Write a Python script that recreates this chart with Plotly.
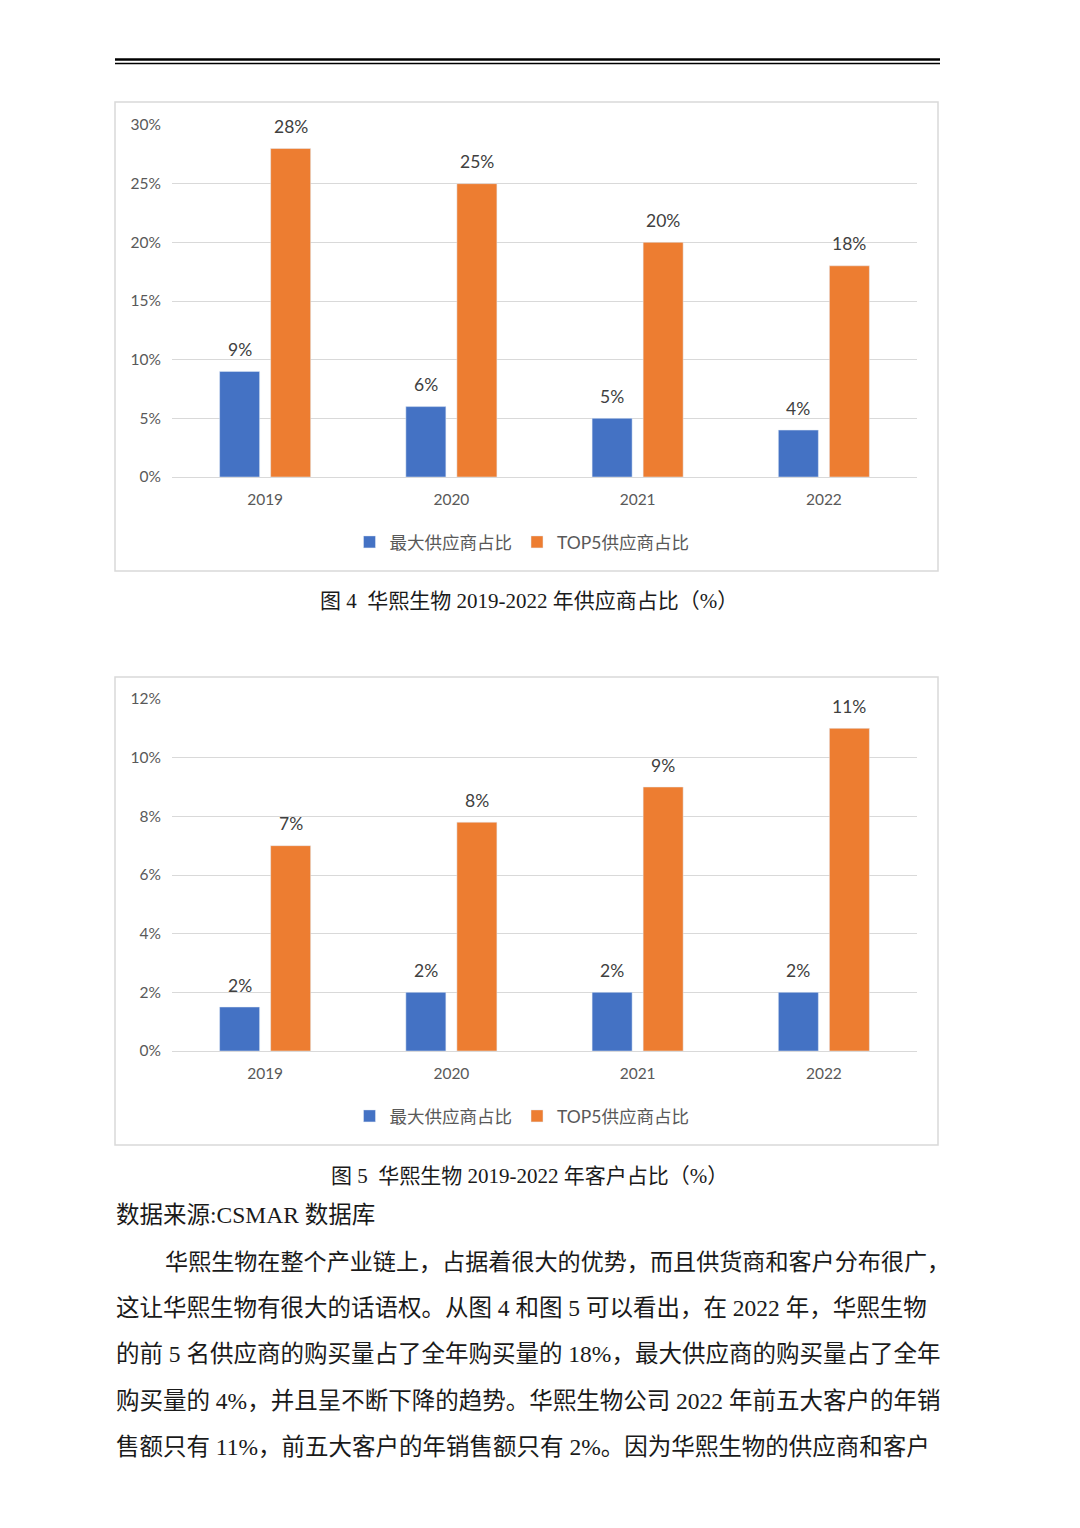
import plotly.graph_objects as go

# page and chart data
years = ["2019", "2020", "2021", "2022"]
supplier_top1 = [9, 6, 5, 4]
supplier_top5 = [28, 25, 20, 18]
customer_top1 = [1.5, 2, 2, 2]
customer_top5 = [7, 7.8, 9, 11]
series_names = ["最大供应商占比", "TOP5供应商占比"]
colors = ["#4472C4", "#ED7D31"]

caption4 = "图 4  华熙生物 2019-2022 年供应商占比（%）"
caption5 = "图 5  华熙生物 2019-2022 年客户占比（%）"
source_line = "数据来源:CSMAR 数据库"
body_lines = [
    "华熙生物在整个产业链上，占据着很大的优势，而且供货商和客户分布很广，",
    "这让华熙生物有很大的话语权。从图 4 和图 5 可以看出，在 2022 年，华熙生物",
    "的前 5 名供应商的购买量占了全年购买量的 18%，最大供应商的购买量占了全年",
    "购买量的 4%，并且呈不断下降的趋势。华熙生物公司 2022 年前五大客户的年销",
    "售额只有 11%，前五大客户的年销售额只有 2%。因为华熙生物的供应商和客户",
]

W, H = 1080, 1528
PAGE_OFFSET = 8  # the page body adds 8px around the figure
BARGAP, GROUPGAP = 0.452, 0.216
CHART_FONT = "Lato, 'Noto Sans CJK SC', sans-serif"
SERIF_FONT = "'Liberation Serif', 'Noto Sans CJK SC', serif"


def px_x(x):
    return (x - PAGE_OFFSET) / W


def px_y(y):
    return 1 - (y - PAGE_OFFSET) / H


fig = go.Figure()

# each bar sits at the centre of its half of the group
slot_offset = (1 - BARGAP) / 4
panels = [
    (supplier_top1, supplier_top5, "x", "y", "legend"),
    (customer_top1, customer_top5, "x2", "y2", "legend2"),
]
for top1, top5, xa, ya, lg in panels:
    for k, (vals, name, col) in enumerate(zip([top1, top5], series_names, colors)):
        fig.add_trace(go.Bar(
            x=years, y=vals, name=name, marker_color=col, xaxis=xa, yaxis=ya,
            legend=lg,
        ))
        # data labels sit a little higher above the bars than bar text allows
        shift = -slot_offset if k == 0 else slot_offset
        for i, v in enumerate(vals):
            fig.add_annotation(
                x=i + shift, y=v, xref=xa, yref=ya, text=f"{v:.0f}%",
                showarrow=False, xanchor="center", yanchor="middle", yshift=22,
                font=dict(size=17.5, color="#404040", family=CHART_FONT),
            )

axis_x = dict(showgrid=False, showline=True, linecolor="#d9d9d9", linewidth=1,
              ticks="", tickfont=dict(size=15.5, color="#595959", family=CHART_FONT),
              ticklabelstandoff=8, domain=[px_x(172), px_x(917)])
axis_y = dict(showgrid=True, gridcolor="#d9d9d9", gridwidth=1, zeroline=False,
              showline=False, ticksuffix="%", ticks="",
              tickfont=dict(size=15.5, color="#595959", family=CHART_FONT),
              ticklabelstandoff=10)
legend_style = dict(orientation="h", xanchor="center", yanchor="middle",
                    itemwidth=30, bgcolor="rgba(0,0,0,0)",
                    font=dict(size=17.5, color="#595959", family=CHART_FONT))

fig.update_layout(
    width=W, height=H, autosize=False,
    margin=dict(l=0, r=0, t=0, b=0, autoexpand=False),
    paper_bgcolor="white", plot_bgcolor="white",
    barmode="group", bargap=BARGAP, bargroupgap=GROUPGAP,
    xaxis=dict(axis_x, anchor="y"),
    yaxis=dict(axis_y, range=[0, 30], dtick=5, anchor="x",
               domain=[px_y(477), px_y(125)]),
    xaxis2=dict(axis_x, anchor="y2"),
    yaxis2=dict(axis_y, range=[0, 12], dtick=2, anchor="x2",
                domain=[px_y(1051), px_y(699)]),
    legend=dict(legend_style, x=px_x(522), y=px_y(542)),
    legend2=dict(legend_style, x=px_x(522), y=px_y(1116)),
)

# page decorations: header rule and chart frames
fig.add_shape(type="line", xref="paper", yref="paper", x0=px_x(115), x1=px_x(940),
              y0=px_y(59.5), y1=px_y(59.5), line=dict(color="black", width=2.5))
fig.add_shape(type="line", xref="paper", yref="paper", x0=px_x(115), x1=px_x(940),
              y0=px_y(63.5), y1=px_y(63.5), line=dict(color="black", width=1.5))
for top, bottom in [(102, 571), (677, 1145)]:
    fig.add_shape(type="rect", xref="paper", yref="paper", x0=px_x(115), x1=px_x(938),
                  y0=px_y(bottom), y1=px_y(top), line=dict(color="#d9d9d9", width=1.5),
                  layer="below")

# captions and body text
for txt, y in [(caption4, 601), (caption5, 1176)]:
    fig.add_annotation(text=txt, xref="paper", yref="paper", x=px_x(529), y=px_y(y),
                       xanchor="center", yanchor="middle", showarrow=False,
                       font=dict(size=21, color="#1a1a1a", family=SERIF_FONT))

fig.add_annotation(text=source_line, xref="paper", yref="paper", x=px_x(114), y=px_y(1215),
                   xanchor="left", yanchor="middle", showarrow=False,
                   font=dict(size=23.5, color="#1a1a1a", family=SERIF_FONT))

for i, line in enumerate(body_lines):
    x0 = 163 if i == 0 else 114
    fig.add_annotation(text=line, xref="paper", yref="paper", x=px_x(x0),
                       y=px_y(1262 + 46.2 * i), xanchor="left", yanchor="middle",
                       showarrow=False,
                       font=dict(size=23.1 if i == 0 else 23.5, color="#1a1a1a",
                                 family=SERIF_FONT))

fig.write_html("out.html")
